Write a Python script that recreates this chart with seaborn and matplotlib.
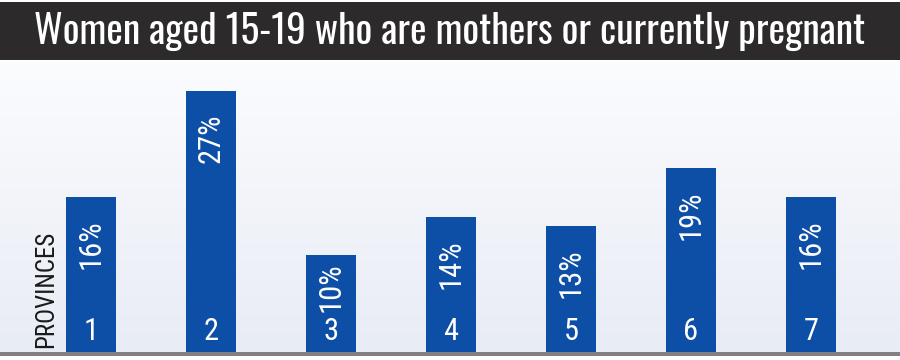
import numpy as np
import pandas as pd
import matplotlib
matplotlib.use("Agg")
import matplotlib.pyplot as plt
from matplotlib import font_manager as fm
from matplotlib.colors import LinearSegmentedColormap
from matplotlib.patches import Rectangle
import seaborn as sns

provinces = ["1", "2", "3", "4", "5", "6", "7"]
values = [16, 27, 10, 14, 13, 19, 16]
title = "Women aged 15-19 who are mothers or currently pregnant"
axis_label = "PROVINCES"

available = {f.name for f in fm.fontManager.ttflist}


def pick(cands):
    for c in cands:
        if c in available:
            return [c, "DejaVu Sans"]
    return ["DejaVu Sans"]


title_font = pick(["Oswald", "Roboto Condensed", "Archivo Narrow", "Asap Condensed",
                   "Liberation Sans Narrow", "DejaVu Sans Condensed"])
label_font = pick(["Roboto Condensed", "Asap Condensed", "Archivo Narrow",
                   "Liberation Sans Narrow", "DejaVu Sans Condensed"])

sns.set_theme(style="white")
plt.rcParams["font.family"] = label_font

fig = plt.figure(figsize=(9, 3.6), dpi=100)
fig.patch.set_facecolor("white")

# title band
fig.patches.append(Rectangle((0, (360 - 60) / 360), 1, 58 / 360, transform=fig.transFigure,
                             facecolor="#2c2a2a", edgecolor="none", zorder=0))
t = fig.text(0.5, (360 - 31) / 360, title, color="white", ha="center", va="center",
             fontsize=30, fontweight="semibold", family=title_font)
renderer = fig.canvas.get_renderer()
w = t.get_window_extent(renderer).width
t.set_fontsize(min(31, 30 * 830 / w))

ax = fig.add_axes([0, (360 - 352) / 360, 1, (352 - 61) / 360])
xlim = (-0.758, 6.742)
ylim = (0, 30.1)

grad = np.linspace(1, 0, 256).reshape(-1, 1)
cmap = LinearSegmentedColormap.from_list("bg", ["#e8ecf5", "#fbfcfe"])
ax.imshow(grad, extent=[xlim[0], xlim[1], ylim[0], ylim[1]], aspect="auto",
          cmap=cmap, zorder=0, origin="upper")

df = pd.DataFrame({"province": provinces, "value": values})
sns.barplot(data=df, x="province", y="value", color="#0d4ea6", width=0.417,
            saturation=1, ax=ax, zorder=2, edgecolor="none")

for i, (p, v) in enumerate(zip(provinces, values)):
    y_top = min(max(v - 2.3, 9.3), v - 0.6)
    ax.text(i, y_top, f"{v}%", rotation=90, ha="center", va="top",
            color="white", fontsize=22, zorder=3)
    ax.text(i, 0.6, p, ha="center", va="bottom", color="white", fontsize=22, zorder=3)

ax.text(-0.37, 0.45, axis_label, rotation=90, ha="center", va="bottom",
        color="#1a1a1a", fontsize=18, zorder=3)

ax.set_xlim(*xlim)
ax.set_ylim(*ylim)
ax.set_axis_off()

# baseline
fig.patches.append(Rectangle((0, (360 - 356) / 360), 1, 4 / 360, transform=fig.transFigure,
                             facecolor="#808080", edgecolor="none", zorder=5))

fig.savefig("out.png", dpi=100)
